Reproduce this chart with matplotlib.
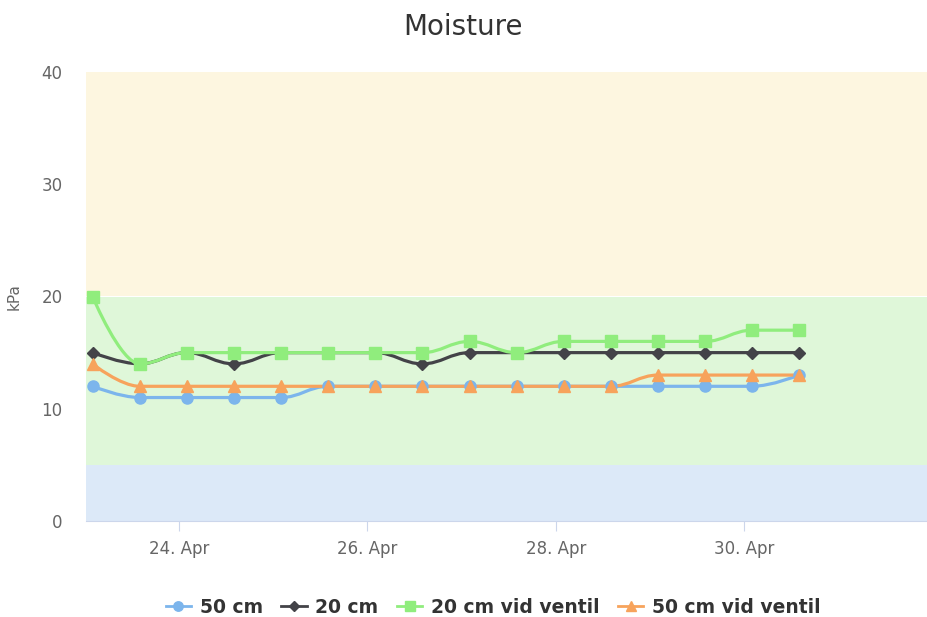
import matplotlib
matplotlib.use("Agg")
import matplotlib.pyplot as plt
import matplotlib.dates as mdates
from matplotlib.path import Path
from matplotlib.patches import PathPatch
from matplotlib.lines import Line2D
from datetime import datetime

plt.rcParams["font.family"] = ["DejaVu Sans"]

# readings every 12 hours, 23 Apr 02:00 -> 30 Apr 14:00
times = [
    "04-23 02:00", "04-23 14:00", "04-24 02:00", "04-24 14:00",
    "04-25 02:00", "04-25 14:00", "04-26 02:00", "04-26 14:00",
    "04-27 02:00", "04-27 14:00", "04-28 02:00", "04-28 14:00",
    "04-29 02:00", "04-29 14:00", "04-30 02:00", "04-30 14:00",
]
cm50 = [12, 11, 11, 11, 11, 12, 12, 12, 12, 12, 12, 12, 12, 12, 12, 13]
cm20 = [15, 14, 15, 14, 15, 15, 15, 14, 15, 15, 15, 15, 15, 15, 15, 15]
cm20_valve = [20, 14, 15, 15, 15, 15, 15, 15, 16, 15, 16, 16, 16, 16, 17, 17]
cm50_valve = [14, 12, 12, 12, 12, 12, 12, 12, 12, 12, 12, 12, 13, 13, 13, 13]

series = [
    ("50 cm", cm50, "#7cb5ec", "o", 8.0),
    ("20 cm", cm20, "#434348", "D", 6.0),
    ("20 cm vid ventil", cm20_valve, "#90ed7d", "s", 8.6),
    ("50 cm vid ventil", cm50_valve, "#f7a35c", "^", 8.5),
]

bands = [(0, 5, "#dce9f8"), (5, 20, "#dff7d9"), (20, 40, "#fdf6e0")]

tick_days = ["04-24", "04-26", "04-28", "04-30"]
tick_labels = ["24. Apr", "26. Apr", "28. Apr", "30. Apr"]


def when(s):
    return mdates.date2num(datetime.strptime("2019-" + s, "%Y-%m-%d %H:%M"))


def spline_path(xs, ys, smoothing=1.5):
    # highcharts-like spline: cubic bezier segments through every point
    n = len(xs)
    denom = smoothing + 1
    left = [(xs[i], ys[i]) for i in range(n)]
    right = [(xs[i], ys[i]) for i in range(n)]
    for i in range(1, n - 1):
        x, y = xs[i], ys[i]
        lx, ly = xs[i - 1], ys[i - 1]
        nx, ny = xs[i + 1], ys[i + 1]
        lcx = (smoothing * x + lx) / denom
        lcy = (smoothing * y + ly) / denom
        rcx = (smoothing * x + nx) / denom
        rcy = (smoothing * y + ny) / denom
        if rcx != lcx:
            corr = (rcy - lcy) * (rcx - x) / (rcx - lcx) + y - rcy
            lcy += corr
            rcy += corr
        if lcy > ly and lcy > y:
            lcy = max(ly, y)
            rcy = 2 * y - lcy
        elif lcy < ly and lcy < y:
            lcy = min(ly, y)
            rcy = 2 * y - lcy
        if rcy > ny and rcy > y:
            rcy = max(ny, y)
            lcy = 2 * y - rcy
        elif rcy < ny and rcy < y:
            rcy = min(ny, y)
            lcy = 2 * y - rcy
        left[i] = (lcx, lcy)
        right[i] = (rcx, rcy)
    verts = [(xs[0], ys[0])]
    codes = [Path.MOVETO]
    for i in range(1, n):
        verts += [right[i - 1], left[i], (xs[i], ys[i])]
        codes += [Path.CURVE4] * 3
    return Path(verts, codes)


fig = plt.figure(figsize=(9.27, 6.17), dpi=100)
ax = fig.add_axes([86 / 927, 96 / 617, 841 / 927, 449 / 617])

for lo, hi, c in bands:
    ax.axhspan(lo, hi, color=c, lw=0, zorder=0)

x = [when(t) for t in times]
handles = []
for name, vals, color, marker, ms in series:
    ax.add_patch(PathPatch(spline_path(x, vals), fill=False, edgecolor=color,
                           lw=2.3, zorder=2, capstyle="round", joinstyle="round"))
    ax.plot(x, vals, ls="none", marker=marker, ms=ms, color=color,
            mec=color, zorder=3)
    handles.append(Line2D([], [], color=color, lw=2, marker=marker,
                          ms=ms * 0.85, label=name))

ax.set_xlim(when("04-23 00:20"), when("05-01 22:30"))
ax.set_ylim(0, 40)
ax.set_yticks([0, 10, 20, 30, 40])
ax.set_xticks([when(d + " 00:00") for d in tick_days])
ax.set_xticklabels(tick_labels)

for s in ["top", "right", "left"]:
    ax.spines[s].set_visible(False)
ax.spines["bottom"].set_color("#ccd6eb")
ax.tick_params(axis="y", length=0, pad=17, labelsize=12, labelcolor="#666666")
ax.tick_params(axis="x", length=7, color="#ccd6eb", pad=7, labelsize=12,
               labelcolor="#666666")
ax.set_ylabel("kPa", fontsize=11, color="#666666", labelpad=14)

fig.text(0.5, 0.956, "Moisture", ha="center", va="center", fontsize=20,
         color="#333333")
fig.legend(handles=handles, loc="center", bbox_to_anchor=(0.532, 0.016),
           ncol=4, frameon=False, handlelength=1.35, handletextpad=0.45,
           columnspacing=1.0, prop={"size": 13.5, "weight": "bold"},
           labelcolor="#333333")

fig.savefig("out.png", dpi=100)
